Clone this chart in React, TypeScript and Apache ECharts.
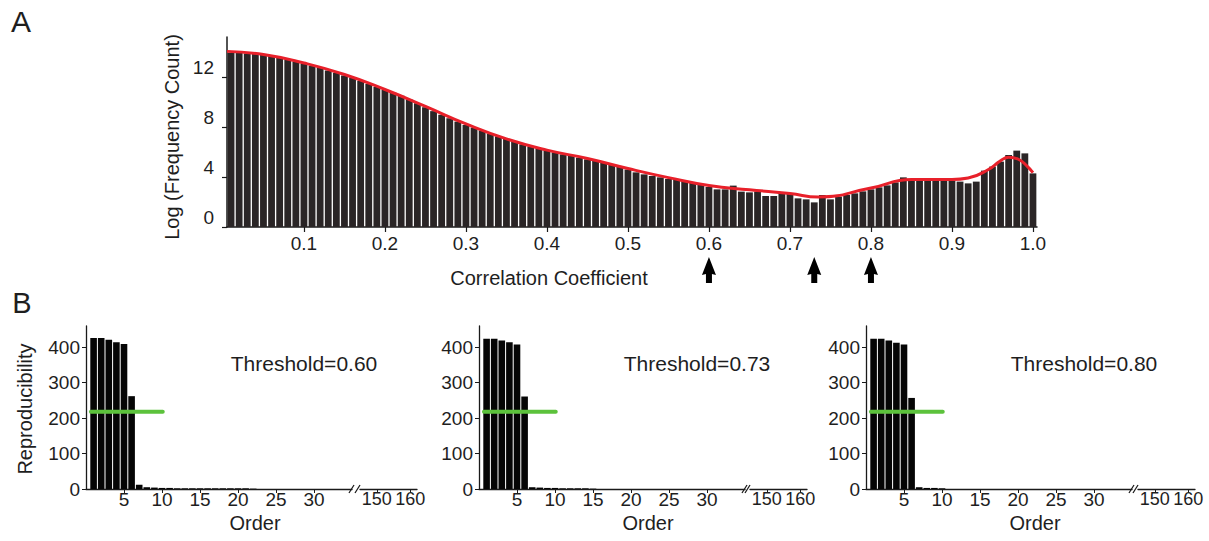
import React, { useEffect, useRef } from "react";
import * as echarts from "echarts";

// ---------- Panel A data ----------
const topCounts = [
  13.95, 13.92, 13.89, 13.84, 13.76, 13.68, 13.55, 13.39, 13.23, 13.07,
  12.88, 12.72, 12.53, 12.35, 12.13, 11.92, 11.68, 11.44, 11.2, 10.96,
  10.75, 10.5, 10.2, 9.9, 9.58, 9.27, 8.98, 8.7, 8.43, 8.16,
  7.95, 7.71, 7.47, 7.25, 7.04, 6.83, 6.61, 6.43, 6.29, 6.11,
  5.97, 5.81, 5.68, 5.55, 5.41, 5.28, 5.15, 4.96, 4.8, 4.6,
  4.37, 4.21, 4.08, 3.97, 3.84, 3.76, 3.68, 3.55, 3.36, 3.2,
  3.01, 3.01, 3.31, 2.83, 2.77, 2.83, 2.48, 2.48, 2.77, 2.69,
  2.29, 2.21, 1.97, 2.56, 2.21, 2.43, 2.56, 2.69, 2.85, 3.01,
  3.17, 3.33, 3.57, 3.97, 3.76, 3.76, 3.81, 3.81, 3.76, 3.71,
  3.63, 3.49, 3.63, 4.51, 4.83, 5.23, 5.76, 6.11, 5.89, 4.29,
];
const binCenters = topCounts.map((_, i) => +((i + 1) / 100).toFixed(2));

const redCurveX = [0.005, 0.05, 0.1, 0.15, 0.2, 0.25, 0.3, 0.35, 0.4, 0.45, 0.5, 0.55, 0.6, 0.65, 0.7, 0.735, 0.8, 0.85, 0.9, 0.92, 0.945, 0.96, 0.97, 0.982, 0.993, 1.0];
const redCurveY = [14.05, 13.8, 13.12, 12.2, 11.0, 9.65, 8.25, 7.05, 6.15, 5.48, 4.68, 3.95, 3.32, 2.98, 2.68, 2.4, 3.12, 3.8, 3.8, 3.92, 4.6, 5.3, 5.58, 5.42, 4.85, 4.35];

const topXTicks = [0.1, 0.2, 0.3, 0.4, 0.5, 0.6, 0.7, 0.8, 0.9, 1.0];
const topYTicks = [0, 4, 8, 12];
const thresholds = [0.6, 0.73, 0.8];

// ---------- Panel B data ----------
const thresholdLabels = ["Threshold=0.60", "Threshold=0.73", "Threshold=0.80"];
const reproByPanel = [
  [426, 426, 421, 414, 409, 262, 12, 5, 4, 3, 3, 2, 2, 2, 2, 2, 2, 2, 2, 2, 2, 1],
  [424, 424, 419, 414, 408, 261, 5, 4, 3, 3, 2, 2, 2, 2, 1],
  [424, 424, 419, 413, 408, 257, 5, 3, 3, 2],
];
const greenLevel = [218, 218, 218];
const greenSpan = [0.65, 10.1];
const orderTicksLeft = [5, 10, 15, 20, 25, 30];
const orderTicksRight = [150, 160];
const reproTicks = [0, 100, 200, 300, 400];

// ---------- layout ----------
const FONT = "'Liberation Sans', Arial, Helvetica, sans-serif";
const TXT = "#1e1e1e";
const AX = "#1a1a1a";
const panelLeft = [86, 479, 866];
const panelRight = [360, 750, 1138];
const leftWidth = 266;
const rightWidth = 57;
const bTop = 326;
const bHeight = 163;

export default function App() {
  const ref = useRef<HTMLDivElement>(null);

  useEffect(() => {
    if (!ref.current) return;
    const chart = echarts.init(ref.current, undefined, { renderer: "svg" });

    const grids: any[] = [{ left: 227, top: 37, width: 810, height: 190 }];
    const xAxes: any[] = [
      {
        type: "value",
        gridIndex: 0,
        min: 0.005,
        max: 1.005,
        axisLine: { lineStyle: { color: AX, width: 1.5 } },
        axisTick: { customValues: topXTicks, length: 5, lineStyle: { color: AX, width: 1.2 } },
        axisLabel: {
          customValues: topXTicks,
          formatter: (v: number) => v.toFixed(1),
          fontSize: 19,
          color: TXT,
          fontFamily: FONT,
          margin: 7,
        },
        splitLine: { show: false },
      },
    ];
    const yAxes: any[] = [
      {
        type: "value",
        gridIndex: 0,
        min: 0,
        max: 15.2,
        axisLine: { show: true, lineStyle: { color: AX, width: 1.5 } },
        axisTick: { show: true, customValues: topYTicks, length: 5, lineStyle: { color: AX, width: 1.2 } },
        axisLabel: {
          customValues: topYTicks,
          fontSize: 19,
          color: TXT,
          fontFamily: FONT,
          margin: 13,
          verticalAlign: "bottom",
        },
        splitLine: { show: false },
      },
    ];
    const series: any[] = [
      {
        type: "bar",
        xAxisIndex: 0,
        yAxisIndex: 0,
        data: topCounts.map((v, i) => [binCenters[i], v]),
        barWidth: 6.8,
        itemStyle: { color: "#2a2526" },
        z: 2,
      },
      {
        type: "line",
        xAxisIndex: 0,
        yAxisIndex: 0,
        data: redCurveX.map((x, i) => [x, redCurveY[i]]),
        smooth: 0.5,
        symbol: "none",
        lineStyle: { color: "#e8202a", width: 3 },
        z: 5,
      },
    ];

    reproByPanel.forEach((vals, p) => {
      const gL = grids.length;
      grids.push({ left: panelLeft[p], top: bTop, width: leftWidth, height: bHeight });
      grids.push({ left: panelRight[p], top: bTop, width: rightWidth, height: bHeight });
      const xL = xAxes.length;
      xAxes.push({
        type: "value",
        gridIndex: gL,
        min: 0,
        max: 35,
        axisLine: { lineStyle: { color: AX, width: 1.3 } },
        axisTick: { customValues: orderTicksLeft, length: 4, lineStyle: { color: AX } },
        axisLabel: { customValues: orderTicksLeft, fontSize: 19, color: TXT, fontFamily: FONT, margin: 1 },
        splitLine: { show: false },
      });
      xAxes.push({
        type: "value",
        gridIndex: gL + 1,
        min: 145,
        max: 162,
        axisLine: { lineStyle: { color: AX, width: 1.3 } },
        axisTick: { customValues: orderTicksRight, length: 4, lineStyle: { color: AX } },
        axisLabel: { customValues: orderTicksRight, fontSize: 18, color: TXT, fontFamily: FONT, margin: 1 },
        splitLine: { show: false },
      });
      const yL = yAxes.length;
      yAxes.push({
        type: "value",
        gridIndex: gL,
        min: 0,
        max: 460,
        axisLine: { show: true, lineStyle: { color: AX, width: 1.3 } },
        axisTick: { show: true, customValues: reproTicks, length: 4, lineStyle: { color: AX } },
        axisLabel: { customValues: reproTicks, fontSize: 19, color: TXT, fontFamily: FONT, margin: 6 },
        splitLine: { show: false },
      });
      yAxes.push({
        type: "value",
        gridIndex: gL + 1,
        min: 0,
        max: 460,
        show: false,
      });
      series.push({
        type: "bar",
        xAxisIndex: xL,
        yAxisIndex: yL,
        data: vals.map((v, i) => [i + 1, v]),
        barWidth: 6.6,
        itemStyle: { color: "#050505" },
        z: 2,
      });
      series.push({
        type: "line",
        xAxisIndex: xL,
        yAxisIndex: yL,
        data: greenSpan.map((x) => [x, greenLevel[p]]),
        symbol: "none",
        lineStyle: { color: "#5cc23c", width: 4, cap: "round" },
        z: 5,
      });
    });

    chart.setOption({
      animation: false,
      backgroundColor: "#ffffff",
      grid: grids,
      xAxis: xAxes,
      yAxis: yAxes,
      series,
    });

    const text = (t: string, x: number, y: number, size: number, rot = 0) => ({
      type: "text",
      x,
      y,
      rotation: rot,
      silent: true,
      style: {
        text: t,
        fill: TXT,
        fontSize: size,
        fontFamily: FONT,
        align: "center",
        verticalAlign: "middle",
      },
    });

    const graphics: any[] = [
      text("A", 21, 21, 30),
      text("B", 22, 303, 29),
      text("Log (Frequency Count)", 172, 137, 20, Math.PI / 2),
      text("Correlation Coefficient", 549, 278, 20),
      text("Reproducibility", 25, 409, 20, Math.PI / 2),
    ];

    thresholds.forEach((t) => {
      const px = chart.convertToPixel({ xAxisIndex: 0 }, t) as number;
      graphics.push({
        type: "polygon",
        x: px,
        y: 257,
        silent: true,
        shape: {
          points: [
            [0, 0],
            [7, 18],
            [3, 17],
            [3, 26],
            [-3, 26],
            [-3, 17],
            [-7, 18],
          ],
        },
        style: { fill: "#000" },
      });
    });

    panelLeft.forEach((L, p) => {
      graphics.push(text(thresholdLabels[p], L + 218, 363, 21));
      graphics.push(text("Order", L + 169, 523, 20));
      const gapStart = L + leftWidth;
      const gapEnd = panelRight[p];
      const base = bTop + bHeight;
      [gapStart - 1, gapEnd - 3].forEach((gx) => {
        graphics.push({
          type: "line",
          silent: true,
          shape: { x1: gx - 2, y1: base + 4, x2: gx + 3, y2: base - 4 },
          style: { stroke: AX, lineWidth: 1.3 },
        });
      });
    });

    chart.setOption({ graphic: graphics });

    return () => chart.dispose();
  }, []);

  return (
    <div
      ref={ref}
      style={{ position: "fixed", left: 0, top: 0, width: 1209, height: 541, background: "#fff" }}
    />
  );
}
